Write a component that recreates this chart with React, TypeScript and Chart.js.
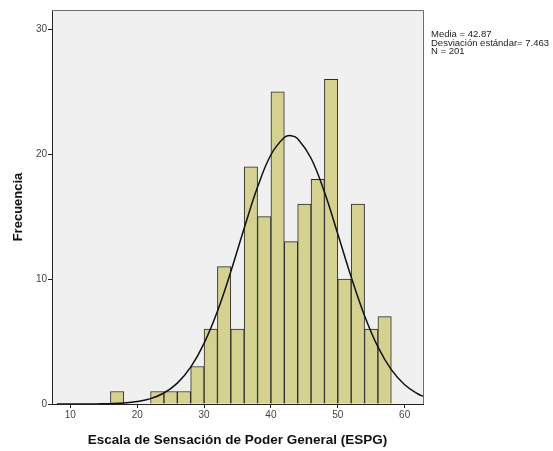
import React, { useEffect, useRef } from "react";
import { Chart, registerables } from "chart.js";

Chart.register(...registerables);

// Histogram bins (width 2): centers and frequencies
const BIN_CENTERS = [17, 23, 25, 27, 29, 31, 33, 35, 37, 39, 41, 43, 45, 47, 49, 51, 53, 55, 57];
const FREQUENCIES = [1, 1, 1, 1, 3, 6, 11, 6, 19, 15, 25, 13, 16, 18, 26, 10, 16, 6, 7];

// Normal curve
const CURVE_X = [8, 10, 12, 14, 16, 18, 20, 22, 24, 26, 28, 30, 32, 34, 36, 38, 40, 42, 43, 44, 46, 48, 50, 52, 54, 56, 58, 60, 62, 63];
const CURVE_Y = [0.0, 0.0, 0.0, 0.01, 0.03, 0.08, 0.2, 0.43, 0.88, 1.67, 2.95, 4.86, 7.43, 10.6, 14.07, 17.37, 19.96, 21.34, 21.49, 21.25, 19.68, 16.97, 13.62, 10.17, 7.07, 4.57, 2.75, 1.54, 0.8, 0.57];

const X_TICKS = [10, 20, 30, 40, 50, 60];
const Y_TICKS = [0, 10, 20, 30];

const STATS_LINES = ["Media = 42.87", "Desviación estándar= 7.463", "N = 201"];
const X_TITLE = "Escala de Sensación de Poder General (ESPG)";
const Y_TITLE = "Frecuencia";

const FONT = "'Liberation Sans', Arial, sans-serif";

const framePlugin = {
  id: "frame",
  beforeDraw(chart: any) {
    const { ctx, chartArea } = chart;
    ctx.save();
    ctx.fillStyle = "#ffffff";
    ctx.fillRect(0, 0, chart.width, chart.height);
    ctx.fillStyle = "#f0f0f0";
    ctx.fillRect(chartArea.left, chartArea.top, chartArea.right - chartArea.left, chartArea.bottom - chartArea.top);
    ctx.restore();
  },
  afterDraw(chart: any) {
    const { ctx, chartArea } = chart;
    ctx.save();
    ctx.strokeStyle = "#6e6e6e";
    ctx.lineWidth = 1;
    ctx.beginPath();
    ctx.moveTo(chartArea.left, chartArea.top + 0.5);
    ctx.lineTo(chartArea.right + 0.5, chartArea.top + 0.5);
    ctx.lineTo(chartArea.right + 0.5, chartArea.bottom);
    ctx.stroke();
    ctx.fillStyle = "#222222";
    ctx.font = "9.5px " + FONT;
    ctx.textBaseline = "alphabetic";
    ctx.textAlign = "left";
    STATS_LINES.forEach((t, i) => {
      ctx.fillText(t, chartArea.right + 8, 37 + i * 8.7);
    });
    ctx.restore();
  },
};

export default function App() {
  const canvasRef = useRef<HTMLCanvasElement | null>(null);

  useEffect(() => {
    const canvas = canvasRef.current;
    if (!canvas) return;
    const barData = BIN_CENTERS.map((x, i) => ({ x, y: FREQUENCIES[i] }));
    const curveData = CURVE_X.map((x, i) => ({ x, y: CURVE_Y[i] }));
    const chart = new Chart(canvas, {
      type: "bar",
      data: {
        datasets: [
          {
            type: "line",
            data: curveData,
            borderColor: "#111111",
            borderWidth: 1.5,
            pointRadius: 0,
            tension: 0.4,
            fill: false,
            order: 0,
          } as any,
          {
            type: "bar",
            data: barData,
            backgroundColor: "rgb(213,210,145)",
            borderColor: "#2a2a2a",
            borderWidth: 1,
            barPercentage: 1,
            categoryPercentage: 1,
            order: 1,
          } as any,
        ],
      },
      options: {
        animation: false,
        responsive: false,
        maintainAspectRatio: false,
        layout: { padding: { left: 0, top: 10, right: 130, bottom: 0 } },
        plugins: {
          legend: { display: false },
          tooltip: { enabled: false },
        },
        scales: {
          x: {
            type: "linear",
            min: 7.26,
            max: 62.74,
            offset: false,
            afterFit(scale: any) {
              scale.height = 47;
            },
            afterBuildTicks(scale: any) {
              scale.ticks = X_TICKS.map((v) => ({ value: v }));
            },
            ticks: {
              color: "#444444",
              font: { size: 10, family: FONT },
              padding: 1,
              maxRotation: 0,
              autoSkip: false,
            },
            grid: { display: true, drawOnChartArea: false, drawTicks: true, tickLength: 4, color: "#222222", offset: false },
            border: { display: true, color: "#222222", width: 1 },
            title: {
              display: true,
              text: X_TITLE,
              color: "#111111",
              font: { size: 13.5, weight: "bold", family: FONT },
              padding: { top: 0, bottom: 3 },
            },
          },
          y: {
            type: "linear",
            min: 0,
            max: 31.55,
            afterFit(scale: any) {
              scale.width = 52;
            },
            afterBuildTicks(scale: any) {
              scale.ticks = Y_TICKS.map((v) => ({ value: v }));
            },
            ticks: {
              color: "#444444",
              font: { size: 10, family: FONT },
              padding: 1,
            },
            grid: { display: true, drawOnChartArea: false, drawTicks: true, tickLength: 4, color: "#222222" },
            border: { display: true, color: "#222222", width: 1 },
            title: {
              display: true,
              text: Y_TITLE,
              color: "#111111",
              font: { size: 13, weight: "bold", family: FONT },
              padding: { top: 11, bottom: 4 },
            },
          },
        },
      } as any,
      plugins: [framePlugin],
    });
    return () => chart.destroy();
  }, []);

  return (
    <div style={{ position: "absolute", left: 0, top: 0, width: 553, height: 451 }}>
      <canvas ref={canvasRef} width={553} height={451} style={{ width: 553, height: 451, display: "block" }} />
    </div>
  );
}
